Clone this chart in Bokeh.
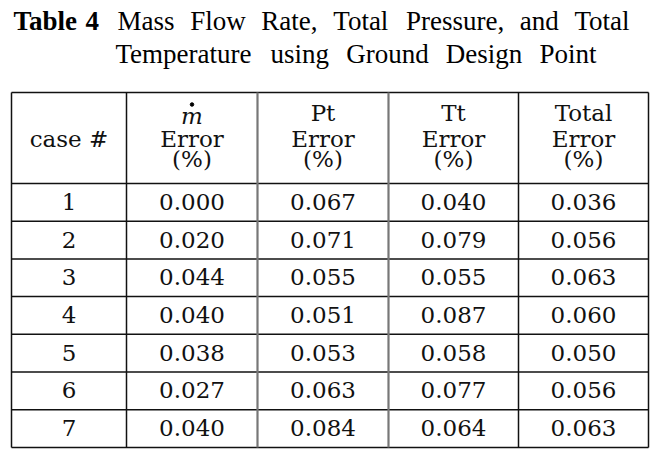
from bokeh.plotting import figure
from bokeh.models import Range1d
from bokeh.core.properties import value
from bokeh.embed import file_html
from bokeh.resources import INLINE

# ---------------- data ----------------
table_label = ["Table", "4"]
title_line1 = ["Mass", "Flow", "Rate,", "Total", "Pressure,", "and", "Total"]
title_line2 = ["Temperature", "using", "Ground", "Design", "Point"]
header_line1 = ["Pt", "Tt", "Total"]
header_line2 = "Error"
header_line3 = "(%)"
case_header = "case #"
mdot_symbol = "m"
cases = [1, 2, 3, 4, 5, 6, 7]
m_error = [0.000, 0.020, 0.044, 0.040, 0.038, 0.027, 0.040]
pt_error = [0.067, 0.071, 0.055, 0.051, 0.053, 0.063, 0.084]
tt_error = [0.040, 0.079, 0.055, 0.087, 0.058, 0.077, 0.064]
total_error = [0.036, 0.056, 0.063, 0.060, 0.050, 0.056, 0.063]

# ---------------- layout (page pixel coords) ----------------
label_x = [13, 85]
line_spans = [(117, 631), (115, 596)]
title_base = [29, 62]
TITLE_SIZE = 27
col_edges = [11, 126, 257, 388, 518, 648]
table_top = 92
header_bottom = 183
row_h = 37.7
SERIF_TITLE = "Liberation Serif"
SERIF_BODY = "DejaVu Serif"
DY_TITLE = -9      # baseline correction for svg text
DY_BODY = -10

# Times-like advance widths (1/1000 em) used to justify the title lines
ADV = {"T": 611, "M": 889, "F": 556, "R": 667, "P": 556, "G": 722, "D": 722,
       "a": 444, "d": 500, "e": 444, "g": 500, "i": 278, "l": 278, "m": 778,
       "n": 500, "o": 500, "p": 500, "r": 333, "s": 389, "t": 278, "u": 500,
       "w": 722, ",": 250}


def word_w(w):
    return sum(ADV.get(c, 500) for c in w) / 1000.0 * TITLE_SIZE


def justify(words, span):
    x0, x1 = span
    widths = [word_w(w) for w in words]
    gap = (x1 - x0 - sum(widths)) / (len(words) - 1)
    xs, x = [], x0
    for wd in widths:
        xs.append(x)
        x += wd + gap
    return xs


p = figure(width=669, height=451, x_range=Range1d(0, 669), y_range=Range1d(451, 0),
           output_backend="svg", toolbar_location=None, min_border=0)
p.axis.visible = False
p.grid.visible = False
p.outline_line_color = None
p.background_fill_color = "white"
p.border_fill_color = "white"

# title
tkw = dict(text_font=value(SERIF_TITLE), text_font_size="%dpx" % TITLE_SIZE,
           text_baseline="alphabetic", text_align="left", text_color="black")
p.text(x=label_x, y=[title_base[0] + DY_TITLE] * 2, text=table_label,
       text_font_style="bold", **tkw)
p.text(x=justify(title_line1, line_spans[0]), y=[title_base[0] + DY_TITLE] * len(title_line1),
       text=title_line1, **tkw)
p.text(x=justify(title_line2, line_spans[1]), y=[title_base[1] + DY_TITLE] * len(title_line2),
       text=title_line2, **tkw)

# grid lines
n = len(cases)
bottom = header_bottom + n * row_h
hy = [table_top, header_bottom] + [header_bottom + (i + 1) * row_h for i in range(n)]
p.segment(x0=[col_edges[0]] * len(hy), x1=[col_edges[-1]] * len(hy), y0=hy, y1=hy,
          line_color="#111111", line_width=1.5)
dark_v = [col_edges[0], col_edges[1], col_edges[4], col_edges[5]]
p.segment(x0=dark_v, x1=dark_v, y0=[table_top] * 4, y1=[bottom] * 4,
          line_color="#111111", line_width=1.5)
grey_v = [col_edges[2], col_edges[3]]
p.segment(x0=grey_v, x1=grey_v, y0=[table_top] * 2, y1=[bottom] * 2,
          line_color="#777777", line_width=2.2)

centers = [(col_edges[i] + col_edges[i + 1]) / 2 for i in range(5)]

# header
body_kw = dict(text_font=value(SERIF_BODY), text_font_size="23px", text_baseline="alphabetic",
               text_align="center", text_color="#111111")
p.text(x=[centers[0]], y=[148 + DY_BODY], text=[case_header], **body_kw)
p.text(x=[centers[1]], y=[125 + DY_BODY], text=[mdot_symbol], text_font_style="italic", **body_kw)
p.scatter(x=[centers[1]], y=[104], size=3.5, color="black")
p.text(x=centers[2:], y=[122 + DY_BODY] * 3, text=header_line1, **body_kw)
p.text(x=centers[1:], y=[148 + DY_BODY] * 4, text=[header_line2] * 4, **body_kw)
p.text(x=centers[1:], y=[168 + DY_BODY] * 4, text=[header_line3] * 4, **body_kw)

# body
row_base = [header_bottom + (i + 0.5) * row_h + 9.5 + DY_BODY for i in range(n)]
p.text(x=[centers[0]] * n, y=row_base, text=[str(c) for c in cases], **body_kw)
for k, series in enumerate([m_error, pt_error, tt_error, total_error]):
    p.text(x=[centers[k + 1]] * n, y=row_base, text=["%.3f" % v for v in series], **body_kw)

open("out.html", "w").write(file_html(p, INLINE))
